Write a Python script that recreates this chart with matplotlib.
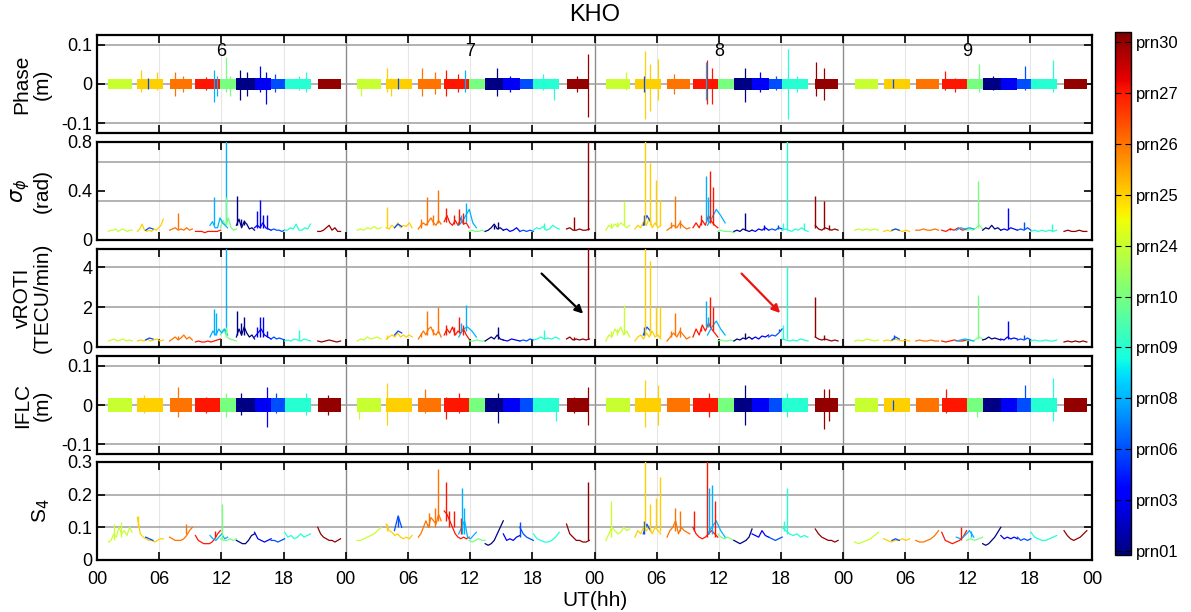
import numpy as np
import matplotlib
matplotlib.use('Agg')
import matplotlib.pyplot as plt
from matplotlib.colors import Normalize
from matplotlib.colorbar import ColorbarBase

# ---------------- data ----------------
PRN_LABELS = ['prn01', 'prn03', 'prn06', 'prn08', 'prn09', 'prn10',
              'prn24', 'prn25', 'prn26', 'prn27', 'prn30']
DAY_LABELS = ['6', '7', '8', '9']
XTICK_LABELS = ['00', '06', '12', '18'] * 4 + ['00']

# satellite passes (hours of day, same geometry each day)
PASS_PRN = ['prn24', 'prn25', 'prn06', 'prn26', 'prn27', 'prn08',
            'prn10', 'prn01', 'prn03', 'prn06', 'prn09', 'prn30']
PASS_START = [1.1, 3.9, 4.7, 7.0, 9.5, 10.9, 11.9, 13.45, 15.2, 16.8, 18.1, 21.3]
PASS_END = [3.4, 6.4, 5.4, 9.2, 11.9, 12.6, 13.45, 15.2, 16.8, 18.1, 20.6, 23.5]

# noise band half-widths (m)
PHASE_AMP = [0.014, 0.014, 0.0, 0.014, 0.013, 0.0, 0.014, 0.015, 0.015, 0.014, 0.014, 0.013]
IFLC_AMP = [0.017, 0.018, 0.0, 0.018, 0.017, 0.0, 0.018, 0.019, 0.019, 0.018, 0.018, 0.018]

# Phase spikes: (prn, hour, low, high)
PHASE_SPK_D6 = [('prn25', 4.2, -.02, .035), ('prn25', 5.8, -.015, .03), ('prn06', 4.9, -.012, .016),
                ('prn26', 7.5, -.03, .03), ('prn26', 8.3, -.02, .02), ('prn27', 10.5, -.015, .018),
                ('prn08', 11.3, -.045, .035), ('prn08', 11.6, -.03, .02), ('prn10', 12.4, -.02, .07),
                ('prn10', 12.8, -.03, .02), ('prn01', 13.8, -.04, .035), ('prn01', 14.5, -.03, .03),
                ('prn03', 15.7, -.02, .045), ('prn03', 16.3, -.05, .03), ('prn06', 17.2, -.02, .025),
                ('prn09', 19.5, -.015, .02), ('prn09', 20.2, -.02, .03)]
PHASE_SPK_D7 = [('prn24', 1.5, -.03, .015), ('prn25', 4.0, -.02, .04), ('prn25', 4.4, -.03, .015),
                ('prn06', 5.0, -.012, .015), ('prn26', 7.4, -.03, .04), ('prn26', 8.6, -.025, .03),
                ('prn27', 9.7, -.03, .035), ('prn27', 10.8, -.02, .025), ('prn08', 11.5, -.02, .035),
                ('prn01', 14.6, -.03, .04), ('prn03', 15.8, -.02, .02), ('prn09', 19.0, -.015, .025),
                ('prn09', 20.1, -.04, .015), ('prn30', 23.33, -.083, .077), ('prn30', 22.3, -.02, .02)]
PHASE_SPK_D8 = [('prn24', 3.0, -.015, .03), ('prn25', 4.92, -.09, .084), ('prn25', 5.4, -.07, .05),
                ('prn25', 6.15, -.04, .065), ('prn06', 4.8, -.02, .02), ('prn26', 7.7, -.025, .025),
                ('prn27', 10.9, -.05, .06), ('prn27', 11.3, -.05, .04), ('prn08', 10.8, -.04, .055),
                ('prn01', 14.5, -.045, .04), ('prn03', 16.0, -.02, .03), ('prn06', 17.5, -.015, .02),
                ('prn09', 18.65, -.09, .09), ('prn09', 19.5, -.02, .02), ('prn30', 21.35, -.03, .055),
                ('prn30', 22.1, -.04, .04)]
PHASE_SPK_D9 = [('prn27', 9.8, -.015, .032), ('prn27', 10.8, -.02, .015), ('prn10', 13.05, -.02, .05),
                ('prn01', 14.4, -.015, .02), ('prn06', 17.55, -.015, .045), ('prn09', 20.2, -.02, .06),
                ('prn06', 4.8, -.01, .012)]

# IFLC spikes: (prn, hour, low, high)
IFLC_SPK_D6 = [('prn25', 4.5, -.02, .025), ('prn26', 7.85, -.03, .047), ('prn27', 10.5, -.02, .02),
               ('prn10', 12.4, -.03, .03), ('prn01', 13.9, -.025, .03), ('prn03', 16.4, -.055, .045),
               ('prn06', 17.3, -.02, .03), ('prn09', 20.2, -.025, .03), ('prn30', 22.3, -.025, .025)]
IFLC_SPK_D7 = [('prn24', 1.3, -.035, .015), ('prn25', 4.0, -.05, .055), ('prn26', 7.6, -.02, .04),
               ('prn27', 9.7, -.035, .02), ('prn27', 10.96, -.02, .03), ('prn01', 14.65, -.045, .03),
               ('prn09', 20.3, -.04, .015), ('prn30', 23.33, -.05, .045), ('prn30', 22.0, -.02, .02)]
IFLC_SPK_D8 = [('prn25', 4.92, -.055, .065), ('prn25', 6.15, -.05, .05), ('prn27', 11.0, -.03, .03),
               ('prn01', 14.5, -.05, .05), ('prn09', 18.6, -.03, .03), ('prn30', 22.1, -.06, .04),
               ('prn30', 22.6, -.04, .04)]
IFLC_SPK_D9 = [('prn27', 9.9, -.02, .04), ('prn10', 12.9, -.03, .015), ('prn06', 17.5, -.015, .05),
               ('prn09', 20.2, -.04, .07), ('prn06', 4.8, -.012, .012)]

# sigma_phi (rad), one list per pass (PASS_PRN order)
SIGMA_D6 = [[.07, .08, .08, .09, .07, .08, .09, .08, .07, .08, .08],
            [.07, .09, .13, .08, .07, .08, .07, .09, .08, .1, .12, .17],
            [.08, .1, .09],
            [.08, .09, .1, .08, .09, .08, .1, .08, .09],
            [.07, .07, .07, .06, .07, .07, .07, .07, .08],
            [.12, .15, .1, .1, .18, .14, .12, .1],
            [.1, .16, .12, .18, .1, .08, .09],
            [.12, .17, .1, .15, .13, .09, .1, .08],
            [.1, .12, .1, .14, .1, .09, .08],
            [.08, .09, .08, .08, .07, .08],
            [.08, .08, .1, .09, .13, .08, .08, .1, .09, .13],
            [.07, .07, .08, .1, .12, .08, .1, .07, .07]]
SIGMA_D7 = [[.08, .09, .08, .1, .09, .11, .09, .1],
            [.1, .09, .12, .1, .14, .1, .12, .11, .14, .1],
            [.1, .13, .11],
            [.09, .12, .14, .12, .15, .18, .14, .12, .16, .13],
            [.15, .2, .14, .12, .16, .12, .18, .13, .14, .1],
            [.12, .15, .2, .25, .14, .1],
            [.07, .08, .07, .07, .08, .07],
            [.07, .08, .1, .13, .09, .1, .08],
            [.08, .09, .07, .08, .1, .07],
            [.07, .08, .07, .08, .07],
            [.08, .1, .09, .11, .08, .09, .12, .1, .09],
            [.09, .1, .08, .08, .09, .08, .08, .09]]
SIGMA_D8 = [[.08, .12, .1, .13, .11, .14, .12, .1, .12],
            [.09, .12, .1, .15, .12, .18, .1, .14, .1, .12],
            [.12, .2, .15],
            [.08, .1, .12, .1, .14, .11, .09, .1],
            [.1, .14, .1, .16, .12, .2, .15, .12, .1],
            [.12, .18, .25, .2, .14],
            [.07, .08, .07, .07, .07, .06],
            [.07, .08, .07, .09, .08, .07, .08],
            [.08, .07, .09, .08, .1, .08],
            [.08, .09, .08, .1, .09],
            [.08, .09, .08, .07, .09, .08, .1, .08, .07],
            [.12, .09, .08, .1, .09, .08, .09, .08]]
SIGMA_D9 = [[.08, .09, .08, .09, .08, .09, .08],
            [.07, .08, .07, .09, .08, .07, .08, .07],
            [.08, .09, .08],
            [.08, .08, .09, .08, .08, .09, .08],
            [.08, .07, .09, .08, .1, .08, .09],
            [.08, .1, .09, .1, .09],
            [.08, .09, .08, .1, .12, .09],
            [.08, .1, .09, .12, .09, .1, .08],
            [.08, .09, .08, .1, .09, .08],
            [.08, .09, .08, .1, .08],
            [.07, .08, .07, .08, .07, .08, .07, .08],
            [.07, .08, .07, .07, .08, .07, .07]]
# sigma spikes: (prn, hour, base, peak)
SIGMA_SPK_D6 = [('prn26', 7.85, .09, .22), ('prn08', 11.32, .12, .35), ('prn08', 12.43, .15, .85),
                ('prn10', 12.48, .12, .35), ('prn01', 13.5, .12, .36), ('prn01', 13.9, .12, .17),
                ('prn01', 14.2, .12, .16), ('prn03', 15.46, .1, .24), ('prn03', 15.75, .1, .33),
                ('prn03', 16.05, .1, .2), ('prn03', 16.38, .09, .2)]
SIGMA_SPK_D7 = [('prn25', 4.0, .1, .27), ('prn26', 7.26, .1, .17), ('prn26', 7.82, .12, .35),
                ('prn26', 8.37, .12, .2), ('prn26', 8.93, .14, .41), ('prn27', 9.66, .15, .26),
                ('prn27', 10.4, .13, .2), ('prn27', 10.96, .13, .25), ('prn27', 11.33, .13, .22),
                ('prn08', 11.14, .15, .2), ('prn08', 11.62, .15, .3), ('prn01', 14.28, .09, .12),
                ('prn01', 14.65, .09, .15), ('prn09', 19.08, .09, .14), ('prn30', 22.04, .08, .19),
                ('prn30', 23.33, .08, .85)]
SIGMA_SPK_D8 = [('prn24', 1.59, .1, .14), ('prn24', 2.15, .11, .15), ('prn24', 2.88, .12, .32),
                ('prn06', 4.73, .12, .2), ('prn25', 4.92, .12, .85), ('prn25', 5.36, .12, .63),
                ('prn25', 5.91, .12, .49), ('prn25', 6.28, .12, .33), ('prn26', 7.39, .1, .15),
                ('prn26', 7.76, .1, .36), ('prn26', 8.24, .1, .16), ('prn27', 10.27, .12, .2),
                ('prn27', 11.12, .14, .56), ('prn27', 11.45, .12, .43), ('prn08', 10.75, .15, .52),
                ('prn08', 10.93, .15, .35), ('prn01', 14.52, .08, .22), ('prn03', 16.36, .08, .12),
                ('prn06', 17.66, .09, .12), ('prn09', 18.2, .08, .14), ('prn09', 18.58, .08, .85),
                ('prn09', 20.17, .08, .14), ('prn30', 21.27, .1, .36), ('prn30', 22.12, .09, .32),
                ('prn30', 22.64, .08, .12)]
SIGMA_SPK_D9 = [('prn27', 10.27, .08, .1), ('prn10', 13.04, .1, .48), ('prn03', 15.92, .09, .26),
                ('prn06', 17.47, .09, .15), ('prn09', 20.17, .07, .13)]

# vROTI (TECU/min)
VROTI_D6 = [[.3, .35, .4, .3, .35, .4, .3, .35, .3],
            [.3, .35, .3, .4, .3, .35, .4, .3, .35],
            [.35, .45, .4],
            [.3, .4, .5, .35, .45, .6, .4, .5, .35],
            [.25, .3, .25, .25, .3, .25, .3, .35, .4],
            [.5, .8, .6, .9, .7, .9, .6],
            [.6, .9, .5, .4, .35, .3],
            [.5, .9, .6, 1.0, .7, .5, .6, .4],
            [.5, .7, .9, .6, .5, .4],
            [.4, .5, .4, .45, .4, .35],
            [.3, .35, .3, .4, .35, .3, .4, .35, .3],
            [.3, .25, .3, .35, .3, .25, .3]]
VROTI_D7 = [[.3, .4, .35, .5, .4, .45, .5, .4],
            [.4, .5, .6, .5, .7, .5, .6, .5, .6, .5],
            [.6, .8, .7],
            [.4, .6, .8, .6, .9, 1.0, .7, .6, .8, .5],
            [.6, .9, .7, 1.0, .6, .8, .7, .9, .6, .4],
            [.5, .9, 1.0, .8, .5],
            [.3, .3, .35, .3, .3],
            [.3, .4, .5, .4, .6, .4, .35],
            [.35, .3, .4, .35, .3],
            [.3, .35, .3, .4, .35],
            [.35, .4, .5, .4, .45, .4, .5, .4],
            [.4, .5, .35, .4, .35, .4, .35, .4]]
VROTI_D8 = [[.3, .6, .5, .9, .7, 1.0, .6, .8, .5],
            [.3, .5, .6, .4, .7, .5, .8, .5, .6, .4],
            [.6, 1.0, .8],
            [.3, .5, .7, .5, .8, .6, .4, .5],
            [.5, .9, .6, 1.1, .8, 1.2, .9, .7, .5],
            [.6, 1.0, 1.3, .9, .6],
            [.3, .35, .3, .3, .35, .3],
            [.3, .4, .35, .45, .4, .5, .4],
            [.4, .5, .4, .55, .5, .6],
            [.5, .6, .55, .7, .9],
            [.4, .35, .3, .35, .3, .4, .35, .3],
            [.5, .4, .35, .4, .35, .3, .35, .3]]
VROTI_D9 = [[.3, .35, .3, .4, .35, .3, .35],
            [.3, .35, .3, .4, .35, .3, .35, .3],
            [.35, .5, .4],
            [.3, .35, .3, .3, .35, .3, .3],
            [.3, .25, .3, .35, .3, .3, .35],
            [.3, .35, .4, .35, .3],
            [.3, .35, .3, .4, .5, .4],
            [.35, .4, .5, .4, .45, .4, .35],
            [.4, .35, .5, .4, .45, .4],
            [.35, .4, .35, .45, .35],
            [.3, .35, .3, .3, .35, .3, .3, .35],
            [.25, .3, .25, .3, .25, .3, .25]]
VROTI_SPK_D6 = [('prn26', 7.85, .4, .55), ('prn08', 11.32, .6, 1.9), ('prn08', 11.5, .6, 1.7),
                ('prn08', 12.43, .7, 5.2), ('prn10', 12.48, .6, 1.0), ('prn01', 13.5, .6, 1.8),
                ('prn01', 13.9, .6, 1.2), ('prn01', 14.2, .6, 1.5), ('prn03', 15.46, .5, 1.0),
                ('prn03', 15.75, .5, 1.5), ('prn03', 16.05, .5, 1.5), ('prn03', 16.38, .5, .8),
                ('prn09', 19.45, .35, .85)]
VROTI_SPK_D7 = [('prn25', 4.0, .4, .6), ('prn26', 7.26, .5, .7), ('prn26', 7.82, .6, 1.8),
                ('prn26', 8.37, .6, .9), ('prn26', 8.93, .7, 2.0), ('prn27', 9.66, .6, 1.1),
                ('prn27', 10.4, .6, 1.0), ('prn27', 10.96, .7, 1.5), ('prn27', 11.33, .6, 1.1),
                ('prn08', 11.14, .8, 1.2), ('prn08', 11.62, .8, 2.1), ('prn01', 14.65, .4, 1.0),
                ('prn09', 19.08, .4, .85), ('prn30', 22.04, .35, .5), ('prn30', 23.33, .4, 5.2)]
VROTI_SPK_D8 = [('prn24', 1.59, .5, .8), ('prn24', 2.15, .6, .9), ('prn24', 2.88, .7, 2.1),
                ('prn06', 4.73, .6, 1.0), ('prn25', 4.92, .6, 5.2), ('prn25', 5.36, .6, 4.3),
                ('prn25', 5.91, .6, 2.0), ('prn25', 6.28, .5, 2.0), ('prn26', 7.39, .5, .8),
                ('prn26', 7.76, .6, 1.7), ('prn26', 8.24, .5, 1.0), ('prn27', 10.27, .8, 1.0),
                ('prn27', 11.12, 1.0, 2.5), ('prn27', 11.45, .8, 2.0), ('prn08', 10.75, 1.0, 2.3),
                ('prn08', 10.93, 1.0, 1.5), ('prn01', 14.52, .4, .7), ('prn06', 17.8, .8, .9),
                ('prn09', 18.2, .4, 1.1), ('prn09', 18.58, .4, 4.0), ('prn30', 21.27, .5, 2.5),
                ('prn30', 22.12, .35, .6)]
VROTI_SPK_D9 = [('prn06', 4.9, .4, .6), ('prn10', 13.04, .4, 2.6), ('prn03', 15.92, .4, 1.3),
                ('prn06', 17.47, .4, .6)]

# S4
S4_D6 = [[.055, .06, .08, .07, .1, .08, .09, .075, .1, .085],
         [.13, .08, .07, .065, .06, .06, .055, .06, .065, .065],
         [.07, .065, .06],
         [.07, .065, .06, .06, .06, .065, .075, .09, .1],
         [.075, .06, .055, .05, .05, .05, .055, .065, .08, .09],
         [.075, .065, .06, .07, .08, .065, .07],
         [.065, .06, .06, .065, .06, .065],
         [.06, .055, .05, .05, .06, .075, .08],
         [.085, .065, .06, .055, .06, .065],
         [.06, .06, .055, .06, .065],
         [.085, .07, .075, .065, .07, .08, .07, .075, .08],
         [.1, .08, .07, .065, .06, .06, .055, .06, .065]]
S4_D7 = [[.06, .06, .065, .07, .075, .08, .09, .1],
         [.11, .09, .085, .075, .08, .07, .065, .07, .065, .075],
         [.09, .135, .1],
         [.07, .08, .1, .12, .1, .13, .12, .11, .14, .12],
         [.15, .14, .12, .1, .08, .07, .065, .07, .065, .07],
         [.08, .1, .12, .07, .065, .075, .085],
         [.06, .055, .06, .065, .06, .06],
         [.05, .045, .05, .06, .08, .1, .12],
         [.08, .06, .065, .06, .07, .075],
         [.1, .08, .07, .065, .06],
         [.08, .065, .06, .055, .055, .06, .07, .085],
         [.11, .08, .07, .06, .06, .055, .055, .06]]
S4_D8 = [[.06, .08, .1, .09, .08, .085, .1, .09, .095],
         [.07, .09, .08, .1, .09, .1, .08, .1, .09, .08],
         [.08, .11, .09],
         [.07, .09, .1, .12, .08, .1, .09, .085, .08],
         [.1, .08, .07, .065, .07, .08, .09, .08, .07],
         [.08, .1, .12, .09, .07],
         [.08, .07, .065, .07, .065, .06],
         [.06, .055, .05, .055, .06, .07, .095],
         [.08, .075, .07, .09, .075, .07],
         [.07, .065, .06, .065, .07],
         [.1, .09, .08, .075, .08, .07, .075, .07],
         [.095, .08, .07, .065, .06, .06, .055, .06]]
S4_D9 = [[.055, .05, .055, .06, .065, .075, .085],
         [.065, .06, .055, .06, .06, .065, .06, .065],
         [.06, .065, .06],
         [.06, .055, .055, .06, .065, .075, .09],
         [.085, .06, .055, .05, .055, .06, .07, .09],
         [.07, .065, .075, .09, .07],
         [.06, .065, .06, .065, .07],
         [.05, .045, .05, .06, .07, .085, .1],
         [.075, .065, .07, .065, .07, .065],
         [.07, .06, .065, .06, .065],
         [.085, .07, .065, .06, .06, .065, .07, .075],
         [.09, .075, .065, .06, .065, .07, .08, .09]]
S4_SPK_D6 = [('prn24', 1.6, .06, .11), ('prn24', 2.3, .07, .115), ('prn25', 4.0, .1, .135),
             ('prn26', 8.6, .08, .11), ('prn27', 11.4, .07, .09), ('prn10', 12.1, .065, .17)]
S4_SPK_D7 = [('prn25', 4.0, .09, .11), ('prn06', 5.0, .1, .135), ('prn26', 8.0, .1, .145),
             ('prn26', 8.6, .1, .16), ('prn26', 8.9, .12, .28), ('prn27', 9.7, .12, .24),
             ('prn27', 10.0, .1, .15), ('prn27', 10.4, .1, .15), ('prn27', 11.1, .08, .13),
             ('prn08', 11.2, .08, .22), ('prn08', 11.4, .08, .16), ('prn06', 16.85, .07, .115),
             ('prn30', 23.33, .06, .24)]
S4_SPK_D8 = [('prn24', 1.59, .07, .18), ('prn06', 4.73, .08, .12), ('prn25', 4.92, .09, .31),
             ('prn25', 5.36, .09, .17), ('prn25', 5.91, .1, .19), ('prn25', 6.28, .09, .255),
             ('prn26', 7.76, .09, .16), ('prn26', 8.24, .09, .15), ('prn27', 9.6, .09, .15),
             ('prn27', 10.82, .07, .31), ('prn27', 11.67, .07, .18), ('prn08', 11.08, .08, .22),
             ('prn08', 11.3, .08, .23), ('prn09', 18.3, .09, .12), ('prn09', 18.58, .08, .22)]
S4_SPK_D9 = [('prn27', 11.4, .06, .1), ('prn08', 12.3, .07, .09)]

# ---------------- drawing ----------------
plt.rcParams['font.family'] = ['Liberation Sans', 'DejaVu Sans']
cmap = plt.get_cmap('jet')
norm = Normalize(0.92, 11.2)


def prn_color(prn):
    return cmap(norm(PRN_LABELS.index(prn) + 1))


W, H = 1191, 612
fig = plt.figure(figsize=(W / 100, H / 100), dpi=100)
AX_L, AX_R = 97, 1092
PANEL_TOPS = [35, 142, 249, 356, 462]
PANEL_H = 98
axes = []
for top in PANEL_TOPS:
    ax = fig.add_axes([AX_L / W, 1 - (top + PANEL_H) / H, (AX_R - AX_L) / W, PANEL_H / H])
    axes.append(ax)

BAND_SPK = {'phase': [PHASE_SPK_D6, PHASE_SPK_D7, PHASE_SPK_D8, PHASE_SPK_D9],
            'iflc': [IFLC_SPK_D6, IFLC_SPK_D7, IFLC_SPK_D8, IFLC_SPK_D9]}
LINE_DATA = {'sigma': ([SIGMA_D6, SIGMA_D7, SIGMA_D8, SIGMA_D9],
                       [SIGMA_SPK_D6, SIGMA_SPK_D7, SIGMA_SPK_D8, SIGMA_SPK_D9]),
             'vroti': ([VROTI_D6, VROTI_D7, VROTI_D8, VROTI_D9],
                       [VROTI_SPK_D6, VROTI_SPK_D7, VROTI_SPK_D8, VROTI_SPK_D9]),
             's4': ([S4_D6, S4_D7, S4_D8, S4_D9],
                    [S4_SPK_D6, S4_SPK_D7, S4_SPK_D8, S4_SPK_D9])}


def frame(ax, ylim, yticks, yticklabels, hlines):
    ax.set_xlim(0, 96)
    ax.set_ylim(*ylim)
    for h in range(6, 96, 6):
        if h % 24 == 0:
            ax.axvline(h, color='0.55', lw=1.0, zorder=0)
        else:
            ax.axvline(h, color='0.9', lw=0.8, zorder=0)
    for y in hlines:
        ax.axhline(y, color='0.62', lw=1.1, zorder=0)
    ax.set_yticks(yticks)
    ax.set_yticklabels(yticklabels, fontsize=13)
    ax.set_xticks(np.arange(0, 97, 6))
    ax.set_xticklabels([])
    ax.tick_params(direction='in', top=True, right=True, length=6, width=1.2)
    ax.tick_params(axis='x', pad=8)
    for s in ax.spines.values():
        s.set_linewidth(1.6)


def draw_band(ax, amps, spikes_by_day):
    for d in range(4):
        for i, prn in enumerate(PASS_PRN):
            if amps[i] > 0:
                ax.fill_between([PASS_START[i] + 24 * d, PASS_END[i] + 24 * d],
                                -amps[i], amps[i], color=prn_color(prn), lw=0, zorder=2)
        for prn, t, lo, hi in spikes_by_day[d]:
            ax.vlines(t + 24 * d, lo, hi, color=prn_color(prn), lw=0.9, zorder=3)


def draw_lines(ax, series_by_day, spikes_by_day):
    for d in range(4):
        for i, prn in enumerate(PASS_PRN):
            vals = series_by_day[d][i]
            tt = np.linspace(PASS_START[i], PASS_END[i], len(vals)) + 24 * d
            z = 3 if prn in ('prn08',) or i == 2 else 2
            ax.plot(tt, vals, color=prn_color(prn), lw=0.9, zorder=z)
        for prn, t, base, peak in spikes_by_day[d]:
            ax.vlines(t + 24 * d, base, peak, color=prn_color(prn), lw=1.0, zorder=3)


# Phase
ax = axes[0]
frame(ax, (-0.125, 0.125), [-0.1, 0, 0.1], ['-0.1', '0', '0.1'], [-0.1, 0, 0.1])
draw_band(ax, PHASE_AMP, BAND_SPK['phase'])
for d, lab in enumerate(DAY_LABELS):
    ax.text(24 * d + 12, 0.082, lab, ha='center', va='center', fontsize=13)
ax.set_ylabel('Phase\n(m)', fontsize=15, linespacing=1.1)

# sigma phi
ax = axes[1]
frame(ax, (0, 0.8), [0, 0.4, 0.8], ['0', '0.4', '0.8'], [0.32, 0.64])
draw_lines(ax, *LINE_DATA['sigma'])
ax.set_ylabel('$\\sigma_\\phi$\n(rad)', fontsize=15, linespacing=1.1)

# vROTI
ax = axes[2]
frame(ax, (0, 4.9), [0, 2, 4], ['0', '2', '4'], [2, 4])
draw_lines(ax, *LINE_DATA['vroti'])
ax.set_ylabel('vROTI\n(TECU/min)', fontsize=15, linespacing=1.1)
ax.annotate('', xy=(47.1, 1.57), xytext=(42.7, 3.77),
            arrowprops=dict(arrowstyle='-|>', color='k', lw=1.6, mutation_scale=12))
ax.annotate('', xy=(66.1, 1.6), xytext=(62.0, 3.77),
            arrowprops=dict(arrowstyle='-|>', color='#ee1111', lw=1.6, mutation_scale=12))

# IFLC
ax = axes[3]
frame(ax, (-0.125, 0.125), [-0.1, 0, 0.1], ['-0.1', '0', '0.1'], [-0.1, 0, 0.1])
draw_band(ax, IFLC_AMP, BAND_SPK['iflc'])
ax.set_ylabel('IFLC\n(m)', fontsize=15, linespacing=1.1)

# S4
ax = axes[4]
frame(ax, (0, 0.3), [0, 0.1, 0.2, 0.3], ['0', '0.1', '0.2', '0.3'], [0.1, 0.2])
draw_lines(ax, *LINE_DATA['s4'])
ax.set_ylabel('S$_4$', fontsize=15)
ax.set_xticklabels(XTICK_LABELS, fontsize=13)
ax.set_xlabel('UT(hh)', fontsize=15, labelpad=2)

for a in axes:
    a.yaxis.set_label_coords(-0.045, 0.5)

fig.text((AX_L + AX_R) / 2 / W, 1 - 15 / H, 'KHO', ha='center', va='center', fontsize=17)

# colorbar
cax = fig.add_axes([1115 / W, 1 - 555 / H, 16 / W, 523 / H])
cb = ColorbarBase(cax, cmap=cmap, norm=norm, orientation='vertical')
cb.set_ticks(np.arange(1, 12))
cb.set_ticklabels(PRN_LABELS)
cax.tick_params(labelsize=12, direction='in', length=4, left=True, right=True)
cb.outline.set_linewidth(1.0)

fig.savefig('out.png', dpi=100)
